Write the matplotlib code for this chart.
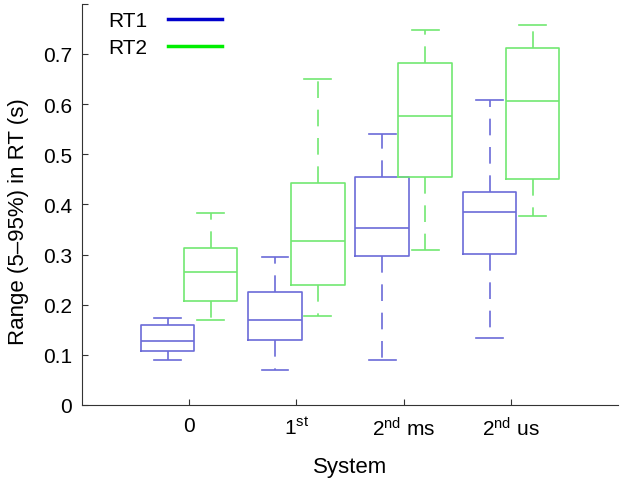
import matplotlib
matplotlib.use("Agg")
import matplotlib.pyplot as plt
from matplotlib.lines import Line2D

plt.rcParams['font.family'] = ['Liberation Sans', 'DejaVu Sans']
plt.rcParams['mathtext.fontset'] = 'custom'
plt.rcParams['mathtext.rm'] = 'Liberation Sans'

systems = ['0', '$\\mathregular{1^{st}}$', '$\\mathregular{2^{nd}}$ ms', '$\\mathregular{2^{nd}}$ us']

# RT1 box stats
rt1_lo = [0.089, 0.070, 0.089, 0.134]
rt1_q1 = [0.107, 0.129, 0.298, 0.302]
rt1_med = [0.127, 0.169, 0.352, 0.385]
rt1_q3 = [0.160, 0.226, 0.454, 0.425]
rt1_hi = [0.174, 0.295, 0.540, 0.608]

# RT2 box stats
rt2_lo = [0.169, 0.177, 0.310, 0.376]
rt2_q1 = [0.207, 0.239, 0.454, 0.451]
rt2_med = [0.266, 0.326, 0.577, 0.606]
rt2_q3 = [0.313, 0.442, 0.682, 0.712]
rt2_hi = [0.383, 0.650, 0.748, 0.757]

c1 = '#6b6bd8'
c2 = '#72e872'

def stats(lo, q1, med, q3, hi):
    out = []
    for i in range(len(lo)):
        out.append({'whislo': lo[i], 'q1': q1[i], 'med': med[i], 'q3': q3[i], 'whishi': hi[i], 'fliers': []})
    return out

fig = plt.figure(figsize=(6.24, 4.81), dpi=100)
ax = fig.add_axes([0.131, 0.156, 0.86, 0.834])

pos = [1, 2, 3, 4]
for st, off, col in [(stats(rt1_lo, rt1_q1, rt1_med, rt1_q3, rt1_hi), -0.2, c1),
                     (stats(rt2_lo, rt2_q1, rt2_med, rt2_q3, rt2_hi), 0.2, c2)]:
    ax.bxp(st, positions=[p + off for p in pos], widths=0.5, capwidths=0.25,
           showfliers=False, manage_ticks=False,
           boxprops=dict(color=col, lw=1.2),
           medianprops=dict(color=col, lw=1.2),
           whiskerprops=dict(color=col, lw=1.2, linestyle=(0, (10, 7))),
           capprops=dict(color=col, lw=1.2))

ax.set_xlim(0, 5)
ax.set_ylim(0, 0.8)
ax.set_xticks(pos)
ax.set_xticklabels(systems, fontsize=15)
ax.set_yticks([0, 0.1, 0.2, 0.3, 0.4, 0.5, 0.6, 0.7, 0.8])
ax.set_yticklabels(['0', '0.1', '0.2', '0.3', '0.4', '0.5', '0.6', '0.7', ''], fontsize=15)
ax.tick_params(direction='in', length=4, color='#333333')
ax.tick_params(axis='x', pad=8)
ax.tick_params(axis='y', pad=7)
ax.spines['top'].set_visible(False)
ax.spines['right'].set_visible(False)
for s in ['left', 'bottom']:
    ax.spines[s].set_color('#333333')

ax.set_xlabel('System', fontsize=16, labelpad=12)
ax.set_ylabel('Range (5\u201395%) in RT (s)', fontsize=16)
ax.yaxis.set_label_coords(-0.098, 0.46)

handles = [Line2D([], [], color='#0000cc', lw=2.5), Line2D([], [], color='#00ee00', lw=2.5)]
ax.legend(handles, ['RT1', 'RT2'], loc='upper left', bbox_to_anchor=(0.033, 1.003),
          borderaxespad=0, frameon=False, markerfirst=False, fontsize=15,
          handlelength=2.6, handletextpad=1.0, labelspacing=0.4)

fig.savefig('out.png', dpi=100)
